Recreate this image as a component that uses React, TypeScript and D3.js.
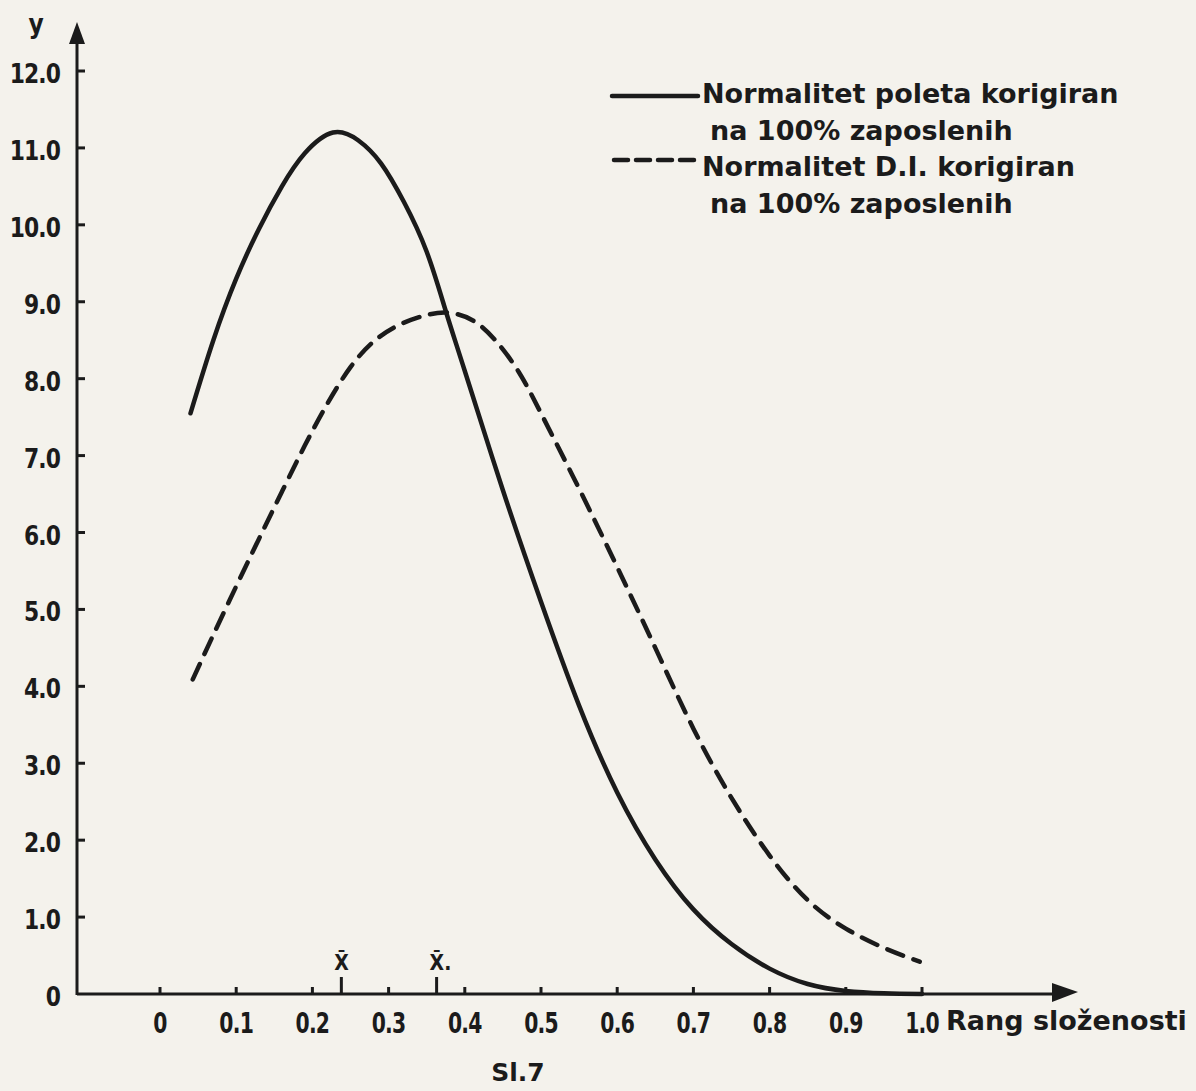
import React from "react";
import * as d3 from "d3";

// ---- data ----
const xTickValues = [0, 0.1, 0.2, 0.3, 0.4, 0.5, 0.6, 0.7, 0.8, 0.9, 1.0];
const xTickLabels = ["0", "0.1", "0.2", "0.3", "0.4", "0.5", "0.6", "0.7", "0.8", "0.9", "1.0"];
const yTickValues = [0, 1, 2, 3, 4, 5, 6, 7, 8, 9, 10, 11, 12];
const yTickLabels = ["0", "1.0", "2.0", "3.0", "4.0", "5.0", "6.0", "7.0", "8.0", "9.0", "10.0", "11.0", "12.0"];

// Normalitet poleta korigiran na 100% zaposlenih (solid)
const poletaX = [0.04, 0.07, 0.1, 0.13, 0.16, 0.19, 0.227, 0.26, 0.29, 0.32, 0.35, 0.375, 0.4, 0.45, 0.5, 0.55, 0.6, 0.65, 0.7, 0.75, 0.8, 0.85, 0.9, 0.95, 1.0];
const poletaY = [7.55, 8.5, 9.3, 9.95, 10.5, 10.93, 11.2, 11.1, 10.8, 10.3, 9.65, 8.88, 8.1, 6.55, 5.1, 3.75, 2.62, 1.75, 1.1, 0.65, 0.33, 0.13, 0.04, 0.01, 0.0];

// Normalitet D.I. korigiran na 100% zaposlenih (dashed)
const diX = [0.043, 0.07, 0.1, 0.13, 0.16, 0.19, 0.22, 0.25, 0.28, 0.31, 0.34, 0.375, 0.41, 0.44, 0.47, 0.5, 0.55, 0.6, 0.65, 0.7, 0.75, 0.8, 0.85, 0.9, 0.95, 0.997];
const diY = [4.09, 4.67, 5.3, 5.92, 6.53, 7.13, 7.68, 8.15, 8.48, 8.68, 8.8, 8.86, 8.76, 8.5, 8.1, 7.55, 6.57, 5.55, 4.5, 3.45, 2.55, 1.8, 1.22, 0.85, 0.6, 0.42];

// mean markers
const meanValues = [0.238, 0.363];
const meanLabels = ["X\u0304", "X\u0304."];

const legendLines = [
  "Normalitet poleta korigiran",
  "na 100% zaposlenih",
  "Normalitet D.I. korigiran",
  "na 100% zaposlenih",
];
const xAxisTitle = "Rang složenosti";
const yAxisTitle = "y";
const caption = "Sl.7";

const W = 1196;
const H = 1091;
const INK = "#1b1b1b";
const FONT = "'DejaVu Sans Condensed', 'DejaVu Sans', sans-serif";
const FONT_LEG = "'DejaVu Sans', sans-serif";

export default function App() {
  const x = d3.scaleLinear().domain([0, 1]).range([160, 922]);
  const y = d3.scaleLinear().domain([0, 12]).range([994, 71]);
  const axisX = 77;
  const axisY = y(0);

  const line = d3
    .line<[number, number]>()
    .x((d) => x(d[0]))
    .y((d) => Math.min(y(d[1]), axisY))
    .curve(d3.curveNatural);

  const poleta = poletaX.map((v, i) => [v, poletaY[i]] as [number, number]);
  const di = diX.map((v, i) => [v, diY[i]] as [number, number]);

  return (
    <svg
      width={W}
      height={H}
      viewBox={`0 0 ${W} ${H}`}
      style={{ position: "absolute", left: 0, top: 0, display: "block" }}
    >
      <rect x={0} y={0} width={W} height={H} fill="#f4f2ec" />

      {/* y axis */}
      <line x1={axisX} y1={axisY + 1} x2={axisX} y2={40} stroke={INK} strokeWidth={3} />
      <path d={`M${axisX},22 L${axisX - 8},44 L${axisX + 8},44 Z`} fill={INK} />
      <text x={36} y={33} fontFamily={FONT} fontWeight="bold" fontSize={26} fill={INK} textAnchor="middle">
        {yAxisTitle}
      </text>
      {yTickValues.map((v, i) => (
        <g key={"yt" + i}>
          {v > 0 && (
            <line x1={axisX} x2={axisX + 8} y1={y(v)} y2={y(v)} stroke={INK} strokeWidth={3} />
          )}
          <text
            transform={`translate(60,${y(v) + 12}) scale(0.9,1)`}
            fontFamily={FONT}
            fontWeight="bold"
            fontSize={27}
            fill={INK}
            textAnchor="end"
            letterSpacing={-1}
          >
            {yTickLabels[i]}
          </text>
        </g>
      ))}

      {/* x axis */}
      <line x1={axisX} y1={axisY} x2={1058} y2={axisY} stroke={INK} strokeWidth={3} />
      <path d={`M1078,${axisY - 2} L1052,${axisY - 11} L1052,${axisY + 8} Z`} fill={INK} />
      {xTickValues.map((v, i) => (
        <g key={"xt" + i}>
          <line x1={x(v)} x2={x(v)} y1={axisY} y2={axisY - 7} stroke={INK} strokeWidth={3} />
          <text
            transform={`translate(${x(v)},${axisY + 39}) scale(0.78,1)`}
            fontFamily={FONT}
            fontWeight="bold"
            fontSize={29}
            fill={INK}
            textAnchor="middle"
            letterSpacing={-1}
          >
            {xTickLabels[i]}
          </text>
        </g>
      ))}
      <text x={946} y={axisY + 36} fontFamily={FONT_LEG} fontWeight="bold" fontSize={27} fill={INK}>
        {xAxisTitle}
      </text>

      {/* mean markers */}
      {meanValues.map((v, i) => (
        <g key={"m" + i}>
          <line x1={x(v)} x2={x(v)} y1={axisY} y2={axisY - 17} stroke={INK} strokeWidth={3} />
          <text
            x={x(v) - 7}
            y={axisY - 24}
            fontFamily={FONT}
            fontWeight="bold"
            fontSize={21}
            fill={INK}
          >
            {meanLabels[i]}
          </text>
        </g>
      ))}

      {/* curves */}
      <path d={line(di) || ""} fill="none" stroke={INK} strokeWidth={4.5} strokeDasharray="17 11" strokeLinecap="round" />
      <path d={line(poleta) || ""} fill="none" stroke={INK} strokeWidth={4.5} strokeLinecap="round" />

      {/* legend */}
      <line x1={612} x2={698} y1={96} y2={96} stroke={INK} strokeWidth={4.5} strokeLinecap="round" />
      <line x1={614} x2={698} y1={160} y2={160} stroke={INK} strokeWidth={4.5} strokeDasharray="14 8" strokeLinecap="round" />
      {legendLines.map((t, i) => (
        <text
          key={"lg" + i}
          x={i % 2 === 0 ? 702 : 710}
          y={[103, 140, 176, 213][i]}
          fontFamily={FONT_LEG}
          fontWeight="bold"
          fontSize={27}
          fill={INK}
        >
          {t}
        </text>
      ))}

      {/* caption */}
      <text x={518} y={1081} fontFamily={FONT_LEG} fontWeight="bold" fontSize={25} fill={INK} textAnchor="middle">
        {caption}
      </text>
    </svg>
  );
}
